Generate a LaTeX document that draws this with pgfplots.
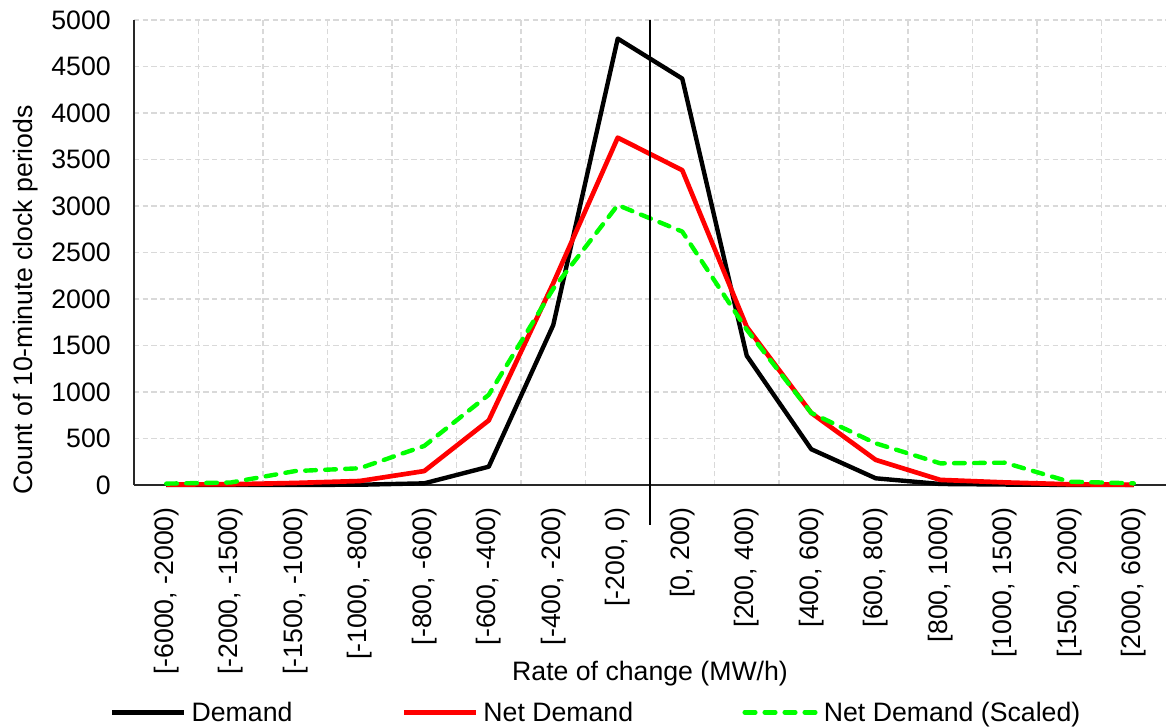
\documentclass[border=0pt]{standalone}
\usepackage{pgfplots}
\pgfplotsset{compat=1.18}
\usepackage{fontspec}
\setmainfont{Liberation Sans}
\definecolor{ngreen}{RGB}{0,255,0}
\definecolor{gridc}{RGB}{217,217,217}
\definecolor{axc}{RGB}{40,40,40}
\begin{document}
\begin{tikzpicture}[font=\fontsize{20}{24}\selectfont]
\path (-100.5pt,-180.75pt) rectangle (774.75pt,363.75pt);
\begin{axis}[
 at={(0,0)}, anchor=south west,
 scale only axis, width=774pt, height=348.75pt,
 xmin=-0.5, xmax=15.5, ymin=0, ymax=5000,
 xtick={0,...,15},
 xticklabels={{[-6000, -2000)},{[-2000, -1500)},{[-1500, -1000)},{[-1000, -800)},{[-800, -600)},{[-600, -400)},{[-400, -200)},{[-200, 0)},{[0, 200)},{[200, 400)},{[400, 600)},{[600, 800)},{[800, 1000)},{[1000, 1500)},{[1500, 2000)},{[2000, 6000)}},
 minor xtick={0.5,1.5,...,14.5},
 ytick={0,500,...,5000},
 xminorgrids, ymajorgrids, xmajorgrids=false,
 grid style={gridc, line width=1pt, dash pattern=on 4pt off 2.5pt},
 minor grid style={gridc, line width=1pt, dash pattern=on 4pt off 2.5pt},
 major tick length=0pt, minor tick length=0pt,
 axis x line*=bottom, axis y line*=left,
 x axis line style={-, axc, line width=1.1pt},
 y axis line style={-, axc, line width=1.1pt},
 /pgf/number format/assume math mode=true,
 /pgf/number format/1000 sep={},
 yticklabel style={anchor=east, inner sep=0pt, xshift=-17.25pt},
 xticklabel style={yshift=-16.5pt, rotate=90, anchor=east, inner sep=0pt},
 xlabel={Rate of change (MW/h)},
 xlabel style={at={(axis description cs:0.5,-0.41935)}, anchor=base, inner sep=0pt},
 ylabel={Count of 10-minute clock periods},
 ylabel style={at={(axis description cs:-0.09787,0.398)}, anchor=base, inner sep=0pt},
 legend columns=3,
 legend cell align=left,
 legend image code/.code={\draw[#1] (0pt,7pt) -- (54pt,7pt);},
 legend style={at={(axis description cs:-0.02326,-0.4903)}, anchor=west, draw=none, fill=none, inner sep=0pt,
   cells={anchor=base west}, nodes={inner sep=0pt},
   /tikz/every odd column/.append style={column sep=3.75pt},
   /tikz/every even column/.append style={column sep=82pt}},
 clip=false,
]
\addplot[black, line width=3.3pt, line join=round] coordinates {
(0,0) (1,0) (2,1) (3,3) (4,18) (5,197) (6,1720) (7,4800) (8,4370) (9,1390) (10,385) (11,72) (12,11) (13,5) (14,1) (15,0)};
\addlegendentry{Demand}
\addplot[red, line width=3.5pt, line join=round] coordinates {
(0,5) (1,8) (2,22) (3,43) (4,150) (5,695) (6,2170) (7,3735) (8,3385) (9,1700) (10,775) (11,270) (12,55) (13,28) (14,8) (15,3)};
\addlegendentry{Net Demand}
\addplot[ngreen, line width=3.3pt, line cap=round, line join=round, dash pattern=on 8pt off 7pt] coordinates {
(0,15) (1,27) (2,150) (3,180) (4,420) (5,970) (6,2110) (7,3010) (8,2725) (9,1670) (10,775) (11,448) (12,233) (13,240) (14,36) (15,18)};
\addlegendentry{Net Demand (Scaled)}
\draw[black, line width=1.2pt] (axis cs:7.5,5000) -- (axis cs:7.5,-430);
\end{axis}
\end{tikzpicture}
\end{document}
